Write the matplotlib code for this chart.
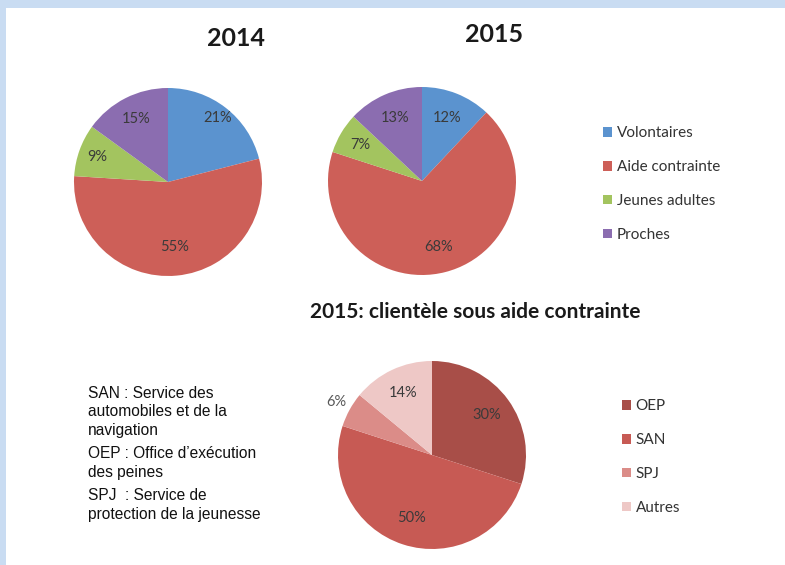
import matplotlib
matplotlib.use("Agg")
import numpy as np
import matplotlib.pyplot as plt
from matplotlib.patches import Rectangle

# data
labels_main = ['Volontaires', 'Aide contrainte', 'Jeunes adultes', 'Proches']
values_2014 = [21, 55, 9, 15]
values_2015 = [12, 68, 7, 13]
labels_aide = ['OEP', 'SAN', 'SPJ', 'Autres']
values_aide = [30, 50, 6, 14]

colors_main = ['#5b93cf', '#cd5f58', '#a3c45f', '#8b6db0']
colors_aide = ['#a84e48', '#c75a54', '#db8c88', '#eec8c6']

note_lines = ["SAN : Service des", "automobiles et de la", "navigation",
              "OEP : Office d\u2019ex\u00e9cution", "des peines",
              "SPJ  : Service de", "protection de la jeunesse"]
note_y = [393, 411, 430, 454, 472, 496, 515]

W, H = 785, 565
fig = plt.figure(figsize=(W / 100, H / 100), dpi=100, facecolor='#c9dcf2')
fig.patches.append(Rectangle((6 / W, 0), 1, 1 - 8 / H, transform=fig.transFigure,
                             facecolor='white', edgecolor='none', zorder=-5))

TITLE_FONT = ['Lato', 'DejaVu Sans']
R = 94


def pie_axes(cx, cy):
    ax = fig.add_axes([(cx - R) / W, (H - cy - R) / H, 2 * R / W, 2 * R / H])
    ax.set_zorder(2)
    return ax


def draw_pie(ax, values, colors, dists, label_colors=None):
    wedges, _ = ax.pie(values, colors=colors, startangle=90, counterclock=False,
                       wedgeprops=dict(linewidth=0))
    for i, (w, v) in enumerate(zip(wedges, values)):
        mid = np.deg2rad((w.theta1 + w.theta2) / 2)
        d = dists[i]
        c = label_colors[i] if label_colors else '#3a3a3a'
        ax.text(d * np.cos(mid), d * np.sin(mid), f"{v}%", ha='center', va='center',
                fontsize=10.5, color=c, family=TITLE_FONT)
    ax.set_xlim(-1, 1)
    ax.set_ylim(-1, 1)
    ax.set_aspect('equal')
    ax.axis('off')
    return wedges


ax1 = pie_axes(168, 182)
w1 = draw_pie(ax1, values_2014, colors_main, [0.86, 0.69, 0.8, 0.75])
ax2 = pie_axes(422, 181)
w2 = draw_pie(ax2, values_2015, colors_main, [0.72, 0.72, 0.76, 0.73])
ax3 = pie_axes(432, 455)
w3 = draw_pie(ax3, values_aide, colors_aide, [0.72, 0.71, 1.16, 0.73],
              label_colors=['#3a3a3a', '#3a3a3a', '#595959', '#3a3a3a'])

fig.text(236 / W, 1 - 38 / H, '2014', ha='center', va='center', fontsize=18,
         fontweight='bold', family=TITLE_FONT, color='#1a1a1a')
fig.text(494 / W, 1 - 34 / H, '2015', ha='center', va='center', fontsize=18,
         fontweight='bold', family=TITLE_FONT, color='#1a1a1a')
fig.text(475 / W, 1 - 312 / H, '2015: client\u00e8le sous aide contrainte', ha='center',
         va='center', fontsize=15, fontweight='bold', family=TITLE_FONT, color='#1a1a1a')

leg_kw = dict(loc='center left', bbox_transform=fig.transFigure, frameon=False,
              handlelength=0.6, handleheight=0.6, handletextpad=0.3,
              labelspacing=1.3, borderpad=0, borderaxespad=0,
              prop={'family': TITLE_FONT, 'size': 11})
lg1 = ax2.legend(w1, labels_main, bbox_to_anchor=(603 / W, 1 - 184 / H), **leg_kw)
for t in lg1.get_texts():
    t.set_color('#333333')
lg2 = ax3.legend(w3, labels_aide, bbox_to_anchor=(622 / W, 1 - 457 / H), **leg_kw)
for t in lg2.get_texts():
    t.set_color('#333333')

for y, line in zip(note_y, note_lines):
    fig.text(88 / W, 1 - y / H, line, ha='left', va='center', fontsize=11.2,
             family=['Liberation Sans', 'DejaVu Sans'], color='#111111')

fig.savefig('out.png', dpi=100, facecolor=fig.get_facecolor())
